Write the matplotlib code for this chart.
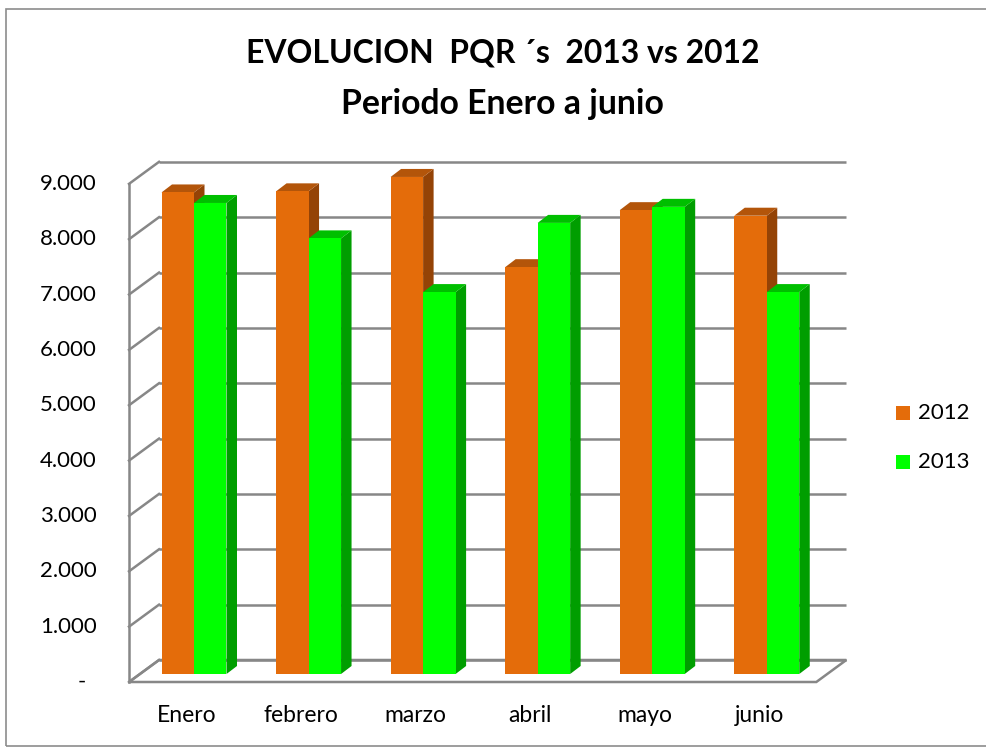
import matplotlib
matplotlib.use("Agg")
import matplotlib.pyplot as plt
from matplotlib.patches import Polygon, Rectangle

# ---------------- data ----------------
categories = ["Enero", "febrero", "marzo", "abril", "mayo", "junio"]
series_names = ["2012", "2013"]
values_2012 = [8700, 8720, 8980, 7350, 8380, 8280]
values_2013 = [8510, 7870, 6900, 8150, 8440, 6900]
y_ticks = [0, 1000, 2000, 3000, 4000, 5000, 6000, 7000, 8000, 9000]
title_line1 = "EVOLUCION  PQR ´s  2013 vs 2012"
title_line2 = "Periodo Enero a junio"

# ---------------- styles ----------------
front_colors = ["#E46C0A", "#00FF00"]
top_colors = ["#B3550A", "#00BF00"]
side_colors = ["#944306", "#009E00"]
grid_color = "#878787"
FONT = ["Lato", "DejaVu Sans"]

W, H = 987, 747
fig = plt.figure(figsize=(W / 100, H / 100), dpi=100)
ax = fig.add_axes([0, 0, 1, 1])
ax.axis("off")

# pixel <-> data mapping (depth-0 plane)
c0 = 186.3        # px of category 0 center
cat_px = 114.55   # px per category
y0_px = 682.0     # px (from top) of value 0
val_px = 0.05535  # px per value unit
ax.set_xlim(-c0 / cat_px, (W - c0) / cat_px)
ax.set_ylim((y0_px - H) / val_px, y0_px / val_px)

def dx(px):
    return px / cat_px

def dy(px):
    return px / val_px

# depth offsets
FX, FY = dx(30), dy(22)          # full floor depth
BFX, BFY = dx(7.7), dy(8)        # bar front offset
BDX, BDY = dx(10.5), dy(8)       # bar depth
BW = dx(32.5)                    # bar width

n = len(categories)
xl, xr = -0.5, n - 0.5
ymax = y_ticks[-1]
lw = 1.8

# floor
ax.add_patch(Polygon([(xl, 0), (xr, 0), (xr + FX, FY), (xl + FX, FY)],
                     closed=True, facecolor="white", edgecolor=grid_color,
                     lw=lw, zorder=1))
# back wall gridlines + left wall
for v in y_ticks:
    ax.plot([xl + FX, xr + FX], [v + FY, v + FY], color=grid_color, lw=lw,
            zorder=1, solid_capstyle="butt")
    ax.plot([xl, xl + FX], [v, v + FY], color=grid_color, lw=lw, zorder=1)
ax.plot([xl, xl], [0, ymax], color=grid_color, lw=lw, zorder=1)

# bars
all_vals = [values_2012, values_2013]
z = 2
for i in range(n):
    for s in range(2):
        v = all_vals[s][i]
        left = i + BFX - BW + s * BW
        right = left + BW
        b0 = BFY
        t0 = BFY + v
        # side face
        ax.add_patch(Polygon([(right, b0), (right + BDX, b0 + BDY),
                              (right + BDX, t0 + BDY), (right, t0)],
                             closed=True, facecolor=side_colors[s],
                             edgecolor="none", zorder=z))
        # top face
        ax.add_patch(Polygon([(left, t0), (right, t0), (right + BDX, t0 + BDY),
                              (left + BDX, t0 + BDY)], closed=True,
                             facecolor=top_colors[s], edgecolor="none", zorder=z))
        # front face
        ax.add_patch(Rectangle((left, b0), BW, v, facecolor=front_colors[s],
                               edgecolor="none", zorder=z))
        z += 1

# y tick labels
for v in y_ticks:
    ypx = y0_px - v * val_px
    if v == 0:
        fig.text(82 / W, 1 - ypx / H, "-", ha="center", va="center",
                 fontsize=16, family=FONT)
    else:
        lab = f"{v:,}".replace(",", ".")
        fig.text(97 / W, 1 - ypx / H, lab, ha="right", va="center",
                 fontsize=16, family=FONT)

# x labels
for i, c in enumerate(categories):
    ax.text(i, dy(-33), c, ha="center", va="center", fontsize=16.5, family=FONT)

# legend
leg_y = [413, 462]
for s, name in enumerate(series_names):
    fig.patches.append(Rectangle((896 / W, 1 - (leg_y[s] + 7) / H), 14 / W, 14 / H,
                                 transform=fig.transFigure,
                                 facecolor=front_colors[s], edgecolor="none"))
    fig.text(918 / W, 1 - leg_y[s] / H, name, ha="left", va="center",
             fontsize=16, family=FONT)

# border (right side lies outside the image)
fig.patches.append(Rectangle((6 / W, 1 / H), 1.2, (746 - 9) / H,
                             transform=fig.transFigure, fill=False,
                             edgecolor="#8C8C8C", lw=1.2))

# title (fit widths)
t1 = fig.text(503 / W, 1 - 53 / H, title_line1, ha="center", va="center",
              fontsize=24, fontweight="bold", family=FONT)
t2 = fig.text(502 / W, 1 - 104 / H, title_line2, ha="center", va="center",
              fontsize=24, fontweight="bold", family=FONT)
fig.canvas.draw()
w1 = t1.get_window_extent().width
w2 = t2.get_window_extent().width
t1.set_fontsize(24 * 513 / w1)
t2.set_fontsize(min(24 * 333 / w2, 24 * 513 / w1 * 1.06))

fig.savefig("out.png", dpi=100)
